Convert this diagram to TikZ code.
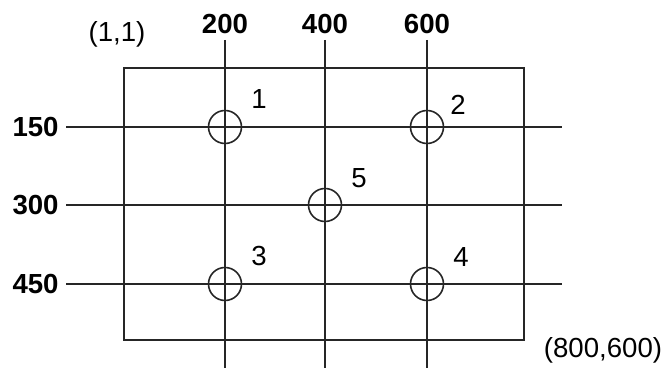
\documentclass[tikz,border=0pt]{standalone}
\usepackage{fontspec}
\setmainfont{Liberation Sans}
\usetikzlibrary{positioning}

\begin{document}
\begin{tikzpicture}[
        x=0.5pt, y=-0.5pt,
        every node/.style={font=\fontsize{13.8}{16}\selectfont, inner sep=0pt},
        grid/.style={line width=0.8pt, black!85},
        hole/.style={circle, draw, line width=0.8pt, black!85,
            minimum size=16.5pt},
        axis/.style={font=\fontsize{13.8}{16}\selectfont\bfseries},
        corner/.style={font=\fontsize{13.8}{16}\selectfont}
    ]
    \useasboundingbox (0,0) rectangle (666,368);
    % frame
    \coordinate (tl) at (124,68);
    \coordinate (br) at (524,340);
    \draw [grid] (tl) rectangle (br);
    % vertical lines
    \foreach \n/\x in {200/225, 400/325, 600/427} {
        \node (col\n) [axis] at (\x,24) {\n};
        \coordinate (top\n) at (\x,40);
        \coordinate (bot\n) at (\x,368);
        \draw [grid] (top\n) -- (bot\n);
    }
    % horizontal lines
    \foreach \n/\y in {150/127, 300/205, 450/284} {
        \node (row\n) [axis, anchor=east] at (59,\y) {\n};
        \coordinate (left\n) at (66,\y);
        \coordinate (right\n) at (562,\y);
        \draw [grid] (left\n) -- (right\n);
    }
    % holes
    \node (h1) [hole] at (225,127) {};
    \node (h2) [hole] at (427,127) {};
    \node (h5) [hole] at (325,205) {};
    \node (h3) [hole] at (225,284) {};
    \node (h4) [hole] at (427,284) {};
    \node (n1) at (259,99)  {1};
    \node (n2) at (458,105) {2};
    \node (n5) at (359,178) {5};
    \node (n3) at (259,256) {3};
    \node (n4) at (461,257) {4};
    % corners
    \node (start) [corner] at (117,34)  {(1,1)};
    \node (end)   [corner] at (603,350) {(800,600)};
\end{tikzpicture}
\end{document}
